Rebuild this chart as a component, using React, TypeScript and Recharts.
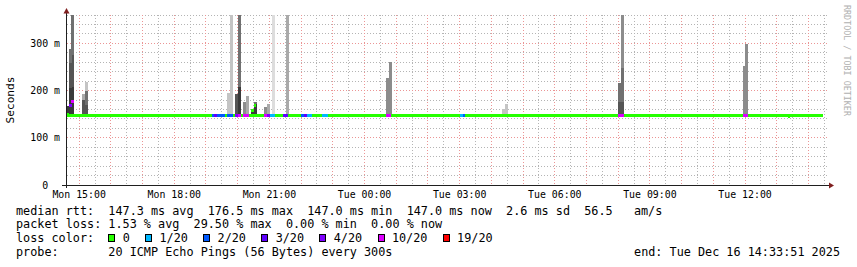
import React from 'react';
import { ComposedChart, Bar, Line, Scatter, XAxis, YAxis, CartesianGrid, Cell } from 'recharts';

const MONO = "'DejaVu Sans Mono', monospace";

// time helper: "Mon 14:38" -> minutes since Mon 00:00
const toMin = (s: string): number => {
  const [d, hm] = s.split(' ');
  const [h, m] = hm.split(':').map(Number);
  return (d === 'Tue' ? 1440 : 0) + h * 60 + m;
};

// ---- axes ----
const rangeStart = 'Mon 14:37';
const rangeEnd = 'Tue 14:37';
const xTickLabels = ['Mon 15:00', 'Mon 18:00', 'Mon 21:00', 'Tue 00:00', 'Tue 03:00', 'Tue 06:00', 'Tue 09:00', 'Tue 12:00'];
const yTicks = [0, 100, 200, 300];
const yTickLabels = ['0  ', '100 m', '200 m', '300 m'];
const yMax = 360;

// ---- median baseline (ms) ----
const medianLineTimes = ['Mon 14:33', 'Tue 14:28'];
const medianLineValues = [147, 147];

// ---- smoke (ping spread per 5-min step) ----
const smokeTimes = ['Mon 14:38', 'Mon 14:43', 'Mon 14:48', 'Mon 15:08', 'Mon 15:13', 'Mon 19:43', 'Mon 19:48', 'Mon 19:58', 'Mon 20:03', 'Mon 20:13', 'Mon 20:18', 'Mon 20:28', 'Mon 20:33', 'Mon 20:43', 'Mon 20:48', 'Mon 20:53', 'Mon 20:58', 'Mon 21:08', 'Mon 21:33', 'Tue 00:43', 'Tue 00:48', 'Tue 04:23', 'Tue 04:28', 'Tue 08:03', 'Tue 08:08', 'Tue 11:58', 'Tue 12:03', 'Tue 13:23'];
const smokeFloor = [147, 147, 147, 147, 147, 147, 147, 147, 147, 147, 147, 147, 147, 147, 147, 147, 147, 147, 147, 147, 147, 147, 147, 147, 147, 147, 147, 143];
const smokeTops = [[168], [205, 258, 289], [208, 275, 360], [180, 192], [170, 200, 219], [194], [194, 360], [192], [207, 360], [176], [189], [161], [171, 176], [151], [151], [166], [172], [360], [360], [226], [260], [162], [171], [176, 217], [176, 247, 360], [253], [299], [146]];
const smokeDensity = [[6], [6, 5, 4], [6, 5, 4], [5, 2], [5, 4, 1], [1], [1, 1], [5], [6, 4], [3], [2], [6], [6, 4], [0], [0], [3], [2], [0], [2], [3], [3], [1], [1], [5, 4], [5, 4, 3], [3], [3], [6]];
const SHADES = ['#dddddd', '#c4c4c4', '#aaaaaa', '#8c8c8c', '#707070', '#555555', '#3a3a3a'];

// ---- median steps with loss ----
const lossLabels = ['0', '1/20', '2/20', '3/20', '4/20', '10/20', '19/20'];
const lossColors = ['#26ff00', '#00b8ff', '#0059ff', '#5e00ff', '#7e00ff', '#dd00ff', '#ff0000'];
const medianTimes = ['Mon 14:38', 'Mon 14:43', 'Mon 14:48', 'Mon 15:08', 'Mon 15:13', 'Mon 19:13', 'Mon 19:18', 'Mon 19:23', 'Mon 19:28', 'Mon 19:33', 'Mon 19:43', 'Mon 19:48', 'Mon 19:58', 'Mon 20:03', 'Mon 20:13', 'Mon 20:18', 'Mon 20:28', 'Mon 20:33', 'Mon 20:43', 'Mon 20:48', 'Mon 20:53', 'Mon 20:58', 'Mon 21:03', 'Mon 21:08', 'Mon 21:28', 'Mon 21:33', 'Mon 22:03', 'Mon 22:08', 'Mon 22:13', 'Mon 22:18', 'Mon 22:43', 'Mon 22:48', 'Tue 00:43', 'Tue 00:48', 'Tue 03:03', 'Tue 03:08', 'Tue 04:23', 'Tue 04:28', 'Tue 08:03', 'Tue 08:08', 'Tue 11:58', 'Tue 12:03', 'Tue 13:23'];
const medianValues = [150, 168, 176.5, 147, 147, 147, 147, 147, 147, 147, 147, 147, 147, 147, 147, 147, 158, 169, 147, 147, 147, 147, 147, 147, 147, 147, 147, 147, 147, 147, 147, 147, 147, 147, 147, 147, 147, 147, 147, 147, 147, 147, 146];
const medianLoss = [0, 4, 5, 0, 0, 2, 3, 2, 2, 2, 2, 2, 4, 5, 5, 5, 0, 0, 0, 0, 5, 4, 1, 1, 3, 3, 2, 3, 1, 1, 1, 1, 5, 5, 1, 2, 0, 0, 5, 5, 5, 5, 0];

// ---- legend texts ----
const statsLine = 'median rtt:  147.3 ms avg  176.5 ms max  147.0 ms min  147.0 ms now  2.6 ms sd  56.5   am/s';
const lossLine = 'packet loss: 1.53 % avg  29.50 % max  0.00 % min  0.00 % now';
const lossColorTitle = 'loss color:  ';
const probeLine = 'probe:       20 ICMP Echo Pings (56 Bytes) every 300s';
const endLine = 'end: Tue Dec 16 14:33:51 2025';
const yLabel = 'Seconds';
const watermark = 'RRDTOOL / TOBI OETIKER';

// ---- derived tables ----
const xTicks = xTickLabels.map(toMin);
const xLabelMap: Record<number, string> = {};
xTickLabels.forEach((l) => { xLabelMap[toMin(l)] = l; });
const yLabelMap: Record<number, string> = {};
yTicks.forEach((v, i) => { yLabelMap[v] = yTickLabels[i]; });

const xMin = toMin(rangeStart);
const xMax = toMin(rangeEnd);
const vMajor: number[] = [];
const vMinor: number[] = [];
for (let t = Math.ceil(xMin / 30) * 30; t <= xMax; t += 30) {
  if (t % 60 === 0) vMajor.push(t); else vMinor.push(t);
}
const hMajor: number[] = [];
const hMinor: number[] = [];
for (let v = 20; v <= yMax; v += 20) {
  if (v % 100 === 0) hMajor.push(v); else hMinor.push(v);
}

const smokeRows = smokeTimes.map((time, i) => {
  const row: any = { t: toMin(time), base: smokeFloor[i] };
  let prev = smokeFloor[i];
  for (let k = 0; k < 3; k++) {
    const top = smokeTops[i][k];
    if (top !== undefined) {
      row['b' + k] = top - prev;
      row['c' + k] = SHADES[smokeDensity[i][k]];
      prev = top;
    } else {
      row['b' + k] = 0;
      row['c' + k] = 'none';
    }
  }
  return row;
});

const medianLine = medianLineTimes.map((time, i) => ({ t: toMin(time), v: medianLineValues[i] }));
const medianRows = medianTimes.map((time, i) => ({ t: toMin(time), v: medianValues[i], color: lossColors[medianLoss[i]] }));

const STEP_W = 2.7;
const LINE_W = 3;

const MedianStep = (p: any) => (
  <rect x={p.cx - STEP_W / 2} y={p.cy - LINE_W / 2} width={STEP_W} height={LINE_W} fill={p.payload.color} shapeRendering="crispEdges" />
);

const YTick = (p: any) => (
  <text x={p.x} y={p.y} dy="0.355em" textAnchor="end" fontFamily={MONO} fontSize={9.9} fill="#000" style={{ whiteSpace: 'pre' }}>
    {yLabelMap[p.payload.value]}
  </text>
);

const lineStyle = (top: number): React.CSSProperties => ({
  position: 'absolute', left: 16, top, height: 13.9, lineHeight: '13.9px', fontFamily: MONO, fontSize: 11.8, color: '#000', whiteSpace: 'pre',
});

export default function App() {
  return (
    <div style={{ position: 'absolute', left: 0, top: 0, width: 857, height: 267, background: '#fff', overflow: 'hidden' }}>
      <ComposedChart width={857} height={205} data={smokeRows} margin={{ top: 15, right: 29, bottom: 0, left: 0 }} barCategoryGap={0} barGap={0}>
        <CartesianGrid stroke="#b4b4b4" strokeDasharray="1 2" horizontalValues={hMinor} verticalValues={vMinor} shapeRendering="crispEdges" />
        <CartesianGrid stroke="#eb9595" strokeDasharray="1 2" horizontalValues={hMajor} verticalValues={vMajor} shapeRendering="crispEdges" />
        <XAxis type="number" dataKey="t" domain={[xMin, xMax]} allowDataOverflow ticks={xTicks} interval={0}
          tickFormatter={(v: number) => xLabelMap[v]} axisLine={false} tickLine={false} tickSize={4} tickMargin={2} height={20}
          tick={{ fontFamily: MONO, fontSize: 9.9, fill: '#000' }} />
        <YAxis type="number" domain={[0, yMax]} allowDataOverflow ticks={yTicks} interval={0} width={67}
          axisLine={false} tickLine={false} tickSize={5} tickMargin={2} tick={YTick} />
        <Line data={medianLine} dataKey="v" stroke={lossColors[0]} strokeWidth={LINE_W} dot={false} isAnimationActive={false} shapeRendering="crispEdges" />
        <Bar dataKey="base" stackId="s" fill="transparent" isAnimationActive={false} />
        {[0, 1, 2].map((k) => (
          <Bar key={k} dataKey={'b' + k} stackId="s" isAnimationActive={false} shapeRendering="crispEdges">
            {smokeRows.map((r: any, i: number) => <Cell key={i} fill={r['c' + k]} />)}
          </Bar>
        ))}
        <Scatter data={medianRows} dataKey="v" shape={MedianStep} isAnimationActive={false} />
      </ComposedChart>

      <svg width={857} height={267} style={{ position: 'absolute', left: 0, top: 0, pointerEvents: 'none' }}>
        <line x1={66.5} y1={13} x2={66.5} y2={188} stroke="#1f1f1f" strokeWidth={1} shapeRendering="crispEdges" />
        <line x1={62} y1={185.5} x2={830} y2={185.5} stroke="#1f1f1f" strokeWidth={1} shapeRendering="crispEdges" />
        <polygon points="63.5,13.5 69.5,13.5 66.5,8" fill="#7f1f1f" />
        <polygon points="829,182.5 829,188.5 834,185.5" fill="#7f1f1f" />
      </svg>

      <div style={{ position: 'absolute', left: 11, top: 99.7, transform: 'translate(-50%, -50%) rotate(-90deg)', fontFamily: MONO, fontSize: 11.2, color: '#000', whiteSpace: 'pre', lineHeight: '12px' }}>
        {yLabel}
      </div>
      <div style={{ position: 'absolute', left: 842, top: 5, writingMode: 'vertical-rl', fontFamily: MONO, fontSize: 8.4, lineHeight: '9px', color: '#b0b0b0', whiteSpace: 'pre' }}>
        {watermark}
      </div>

      <div style={lineStyle(204.5)}>{statsLine}</div>
      <div style={lineStyle(218.4)}>{lossLine}</div>
      <div style={{ ...lineStyle(232.3), display: 'flex', alignItems: 'flex-start' }}>
        <span>{lossColorTitle}</span>
        {lossLabels.map((l, i) => (
          <span key={l} style={{ display: 'flex', alignItems: 'flex-start' }}>
            <span style={{ display: 'inline-block', width: 7, height: 8, marginTop: 1.7, boxSizing: 'border-box', border: '1px solid #000', background: lossColors[i], marginRight: 7.3 }} />
            <span style={{ marginRight: 1.2 }}>{l + '  '}</span>
          </span>
        ))}
      </div>
      <div style={lineStyle(246.2)}>{probeLine}</div>
      <div style={{ ...lineStyle(246.2), left: 'auto', right: 17 }}>{endLine}</div>
    </div>
  );
}
